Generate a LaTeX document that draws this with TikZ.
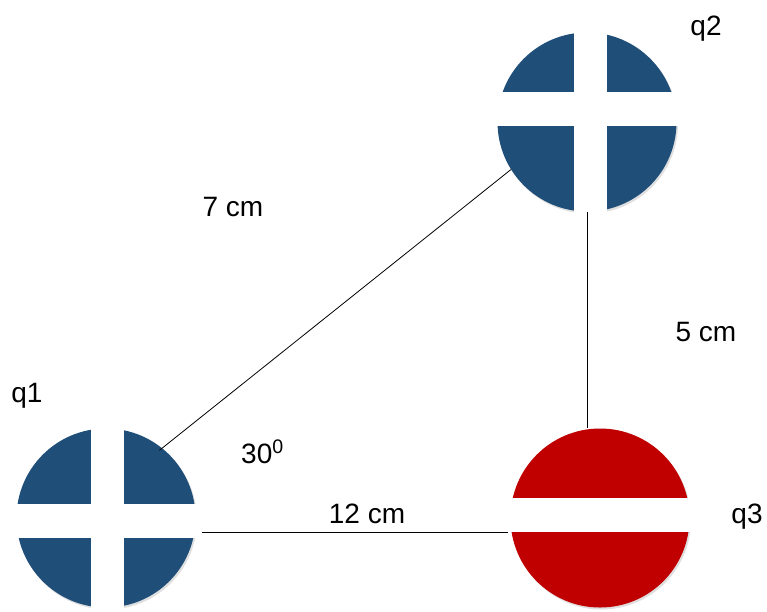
\documentclass[tikz,border=0pt]{standalone}
\usepackage{fontspec}
\setmainfont{Liberation Sans}
\usetikzlibrary{positioning, shadows}
\usepackage{xcolor}

\definecolor{chargeblue}{RGB}{31,78,121}
\definecolor{chargered}{RGB}{192,0,0}

\begin{document}
\begin{tikzpicture}[
            x=1pt, y=-1pt,
            charge/.style={circle, minimum size=179pt, inner sep=0pt, drop shadow={opacity=0.25, shadow xshift=1.5pt, shadow yshift=-2pt}},
            hbar/.style={fill=white, minimum width=188pt, minimum height=34pt, inner sep=0pt},
            vbar/.style={fill=white, minimum width=33pt, minimum height=190pt, inner sep=0pt},
            lbl/.style={font=\fontsize{28}{32}\selectfont, inner sep=0pt, anchor=base},
            link/.style={draw, line width=0.8pt}
        ]
            \useasboundingbox (0,0) rectangle (767,611);
            % charges
            \node[charge, fill=chargeblue] (q1) at (106,518) {};
            \node[charge, fill=chargeblue] (q2) at (587,122) {};
            \node[charge, fill=chargered] (q3) at (600,518) {};
            % signs
            \node[hbar] (q1h) at (108,521) {};
            \node[vbar] (q1v) at (107,521) {};
            \node[hbar] (q2h) at (590,109) {};
            \node[vbar] (q2v) at (590,125) {};
            \node[hbar] (q3h) at (602,515) {};
            % labels
            \node[lbl] (q1lbl) at (27,402) {q1};
            \node[lbl] (q2lbl) at (706,35) {q2};
            \node[lbl] (q3lbl) at (747,523) {q3};
            \node[lbl] (d12) at (233,216) {7 cm};
            \node[lbl] (d23) at (706,341) {5 cm};
            \node[lbl] (d13) at (367,523) {12 cm};
            \node[lbl, anchor=base west] (ang) at (241,463) {30\textsuperscript{0}};
            % connectors
            \draw[link] ([shift={(-3,2)}]q1.51) -- (q2.212);
            \draw[link] (q3h.south west) -- (q3h.south west -| q1h.east);
            \draw[link] (q2.south) -- (q2.south |- q3.north);
        \end{tikzpicture}
\end{document}
